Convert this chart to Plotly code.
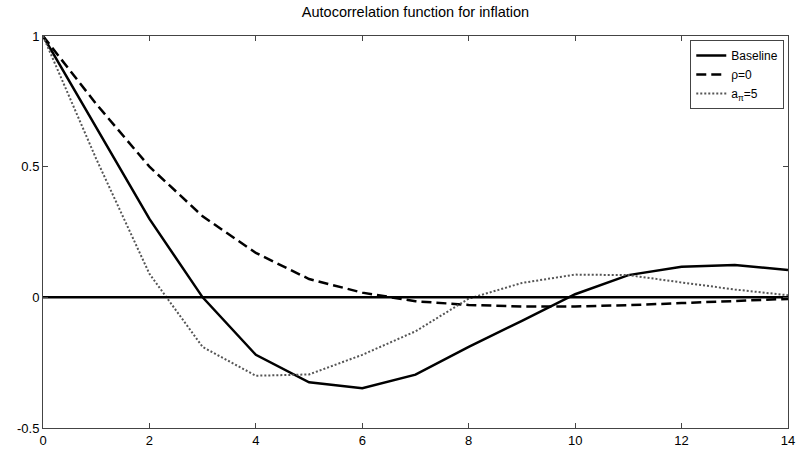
import plotly.graph_objects as go

lags = list(range(0, 15))
baseline = [1.0, 0.65, 0.30, 0.0, -0.22, -0.325, -0.348, -0.296, -0.19, -0.09, 0.012, 0.085, 0.117, 0.124, 0.105]
rho0 = [1.0, 0.74, 0.50, 0.31, 0.17, 0.07, 0.018, -0.015, -0.029, -0.035, -0.035, -0.03, -0.022, -0.013, -0.006]
api5 = [1.0, 0.53, 0.09, -0.19, -0.30, -0.295, -0.22, -0.13, -0.005, 0.055, 0.087, 0.085, 0.057, 0.03, 0.008]
zero = [0.0] * len(lags)

x_ticks = [0, 2, 4, 6, 8, 10, 12, 14]
y_ticks = [-0.5, 0, 0.5, 1]
y_tick_labels = ["-0.5", "0", "0.5", "1"]

fig = go.Figure()
fig.add_trace(go.Scatter(x=lags, y=baseline, mode="lines", name="Baseline",
                         line=dict(color="black", width=2.5)))
fig.add_trace(go.Scatter(x=lags, y=rho0, mode="lines", name="ρ=0",
                         line=dict(color="black", width=2.5, dash="10px,5px")))
fig.add_trace(go.Scatter(x=lags, y=api5, mode="lines", name="a<sub>π</sub>=5",
                         line=dict(color="#555555", width=2, dash="2px,2px")))
fig.add_trace(go.Scatter(x=lags, y=zero, mode="lines", showlegend=False,
                         line=dict(color="black", width=2.5)))

axis_common = dict(showgrid=False, zeroline=False, showline=True, linecolor="#444444",
                   linewidth=1, mirror="ticks", ticks="inside", ticklen=5,
                   tickcolor="#444444", tickfont=dict(size=13, color="black"),
                   automargin=False)

fig.update_xaxes(range=[0, 14], tickvals=x_ticks, **axis_common)
fig.update_yaxes(range=[-0.5, 1], tickvals=y_ticks, ticktext=y_tick_labels, **axis_common)

fig.update_layout(
    template="none",
    width=799, height=450,
    margin=dict(l=43, r=11, t=36, b=22, pad=0),
    paper_bgcolor="white", plot_bgcolor="white",
    font=dict(family="Liberation Sans, Arial, sans-serif", color="black", size=12),
    title=dict(text="Autocorrelation function for inflation", x=0.52, xanchor="center",
               y=0.985, yanchor="top", font=dict(size=14.5)),
    legend=dict(x=0.995, y=0.99, xanchor="right", yanchor="top",
                bordercolor="#444444", borderwidth=1, bgcolor="white",
                font=dict(size=12), tracegroupgap=0, itemwidth=30),
    showlegend=True,
)

fig.write_html("out.html", config={"displayModeBar": False},
               post_script="document.body.style.margin='0';document.body.style.padding='0';")
